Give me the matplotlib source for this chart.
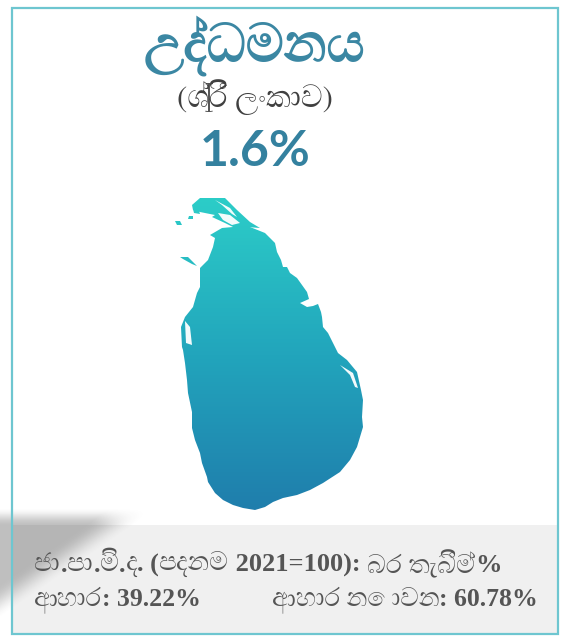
import re
import numpy as np
import matplotlib
matplotlib.use('Agg')
import matplotlib.pyplot as plt
from matplotlib.patches import Polygon, Rectangle

# texts and values
title = 'උද්ධමනය'
country = '(ශ්‍රී ලංකාව)'
inflation = '1.6%'
weights_label = 'ජා.පා.මි.ද. (පදනම 2021=100): බර තැබීම්%'
food_label = 'ආහාර: 39.22%'
nonfood_label = 'ආහාර නොවන: 60.78%'

# map outline
island_x = [210, 222, 233, 250, 265, 270, 275, 277, 281, 283, 287, 290, 297, 302, 307, 309, 300, 307, 313, 318,
            321, 322, 323, 328, 333, 338, 347, 357, 361, 363, 362, 363, 357, 350, 340, 323, 310, 297, 283, 273,
            265, 255, 243, 233, 223, 215, 208, 207, 202, 200, 195, 192, 192, 188, 187, 185, 183, 182, 181, 185,
            193, 197, 200, 200, 208, 213, 215]
island_y = [235, 228, 227, 227, 233, 238, 243, 252, 260, 267, 267, 273, 278, 285, 292, 299, 303, 307, 306, 304,
            312, 317, 327, 333, 343, 353, 360, 372, 390, 400, 417, 427, 447, 460, 472, 483, 490, 495, 498, 502,
            507, 510, 508, 505, 500, 493, 482, 477, 463, 453, 440, 428, 412, 393, 380, 363, 350, 347, 327, 317,
            307, 293, 287, 268, 260, 247, 238]
jaffna_x = [192, 200, 225, 237, 250, 260, 247, 233, 225, 212, 215, 200, 193]
jaffna_y = [205, 198, 198, 210, 222, 228, 227, 227, 223, 217, 215, 212, 210]
islets = [
    ([193, 199, 200, 194], [209, 211, 214, 213]),
    ([189, 193, 193, 188], [216, 216, 219, 219]),
    ([175, 180, 182, 177], [221, 221, 225, 225]),
    ([180, 188, 197, 192, 183], [257, 257, 266, 264, 259]),
]
# white lagoons on top of the land
lagoons = [
    ([215, 230, 237, 232, 222], [200, 208, 217, 214, 205]),
    ([218, 230, 240, 232, 223], [213, 215, 223, 225, 220]),
    ([185, 190, 192, 186], [321, 327, 345, 343]),
    ([340, 353, 358, 355, 350], [365, 373, 388, 387, 375]),
]

fig = plt.figure(figsize=(5.66, 6.42), dpi=100, facecolor='white')
ax = fig.add_axes([0, 0, 1, 1])
ax.axis('off')

# grey panel and card border
ax.add_patch(Rectangle((12, 525), 546, 109, fc='#f0f0f0', ec='none', zorder=1))

# soft diagonal shadow on the left
xx, yy = np.meshgrid(np.arange(0, 170), np.arange(490, 630))
d_diag = (515 + (123 - xx) * 85 / 123 - yy + 18) / 34
d_top = (yy - 507) / 18
a = np.clip(d_diag, 0, 1) * np.clip(d_top, 0, 1)
shadow = np.zeros(xx.shape + (4,))
shadow[..., :3] = 0.25
shadow[..., 3] = a * a * (3 - 2 * a) * 0.33
ax.imshow(shadow, extent=(0, 170, 630, 490), zorder=2, aspect='auto', interpolation='bilinear')
ax.add_patch(Rectangle((12, 8), 546, 626, fc='none', ec='#6ec6d0', lw=1.6, zorder=3))

# gradient land clipped by the outline
colors = np.array([[44, 205, 200], [34, 165, 188], [31, 125, 172]]) / 255
t = np.linspace(0, 1, 320)
grad = np.stack([np.interp(t, [0, 0.5, 1], colors[:, i]) for i in range(3)], axis=1)[:, None, :]
shapes = [(island_x, island_y), (jaffna_x, jaffna_y)] + islets
for sx, sy in shapes:
    poly = Polygon(np.column_stack([sx, sy]), closed=True, fc='none', ec='none', transform=ax.transData)
    ax.add_patch(poly)
    im = ax.imshow(grad, extent=(170, 370, 512, 198), aspect='auto', zorder=4)
    im.set_clip_path(poly)
for sx, sy in lagoons:
    ax.add_patch(Polygon(np.column_stack([sx, sy]), closed=True, fc='white', ec='none', alpha=0.95, zorder=5))
ax.set_xlim(0, 566)
ax.set_ylim(642, 0)

# texts
ax.text(254, 46, title, color='#3b87a3', fontsize=38, fontweight='bold', ha='center', va='center',
        family=['FreeSerif', 'DejaVu Sans'], zorder=6)
ax.text(255, 97, country, color='#404040', fontsize=22, ha='center', va='center',
        family=['FreeSerif', 'DejaVu Sans'], zorder=6)
ax.text(255, 152, inflation, color='#34819f', fontsize=36, fontweight='bold', ha='center', va='center',
        family='Lato', zorder=6)


def draw_runs(x, y, label, size, align='left'):
    # Sinhala in regular serif, digits and signs in bold
    runs = re.findall(r'[\u0D80-\u0DFF\u200D]+(?: [\u0D80-\u0DFF\u200D]+)*|[^\u0D80-\u0DFF\u200D]+', label)
    rend = fig.canvas.get_renderer()
    items = []
    total = 0
    for run in runs:
        sinhala = re.match(r'[\u0D80-\u0DFF]', run) is not None
        txt = ax.text(0, y, run.replace(' ', '\u00a0'), color='#555555', fontsize=size, va='center', ha='left',
                      fontweight='normal' if sinhala else 'bold',
                      family=['FreeSerif', 'DejaVu Sans'] if sinhala else ['Liberation Serif', 'DejaVu Sans'],
                      zorder=6)
        w = txt.get_window_extent(rend).width
        items.append((txt, w))
        total += w
    pos = x if align == 'left' else x - total
    for txt, w in items:
        txt.set_x(pos)
        pos += w


draw_runs(34, 565, weights_label, 19)
draw_runs(34, 600, food_label, 18.5)
draw_runs(538, 600, nonfood_label, 18.5, align='right')

fig.savefig('out.png', dpi=100)
